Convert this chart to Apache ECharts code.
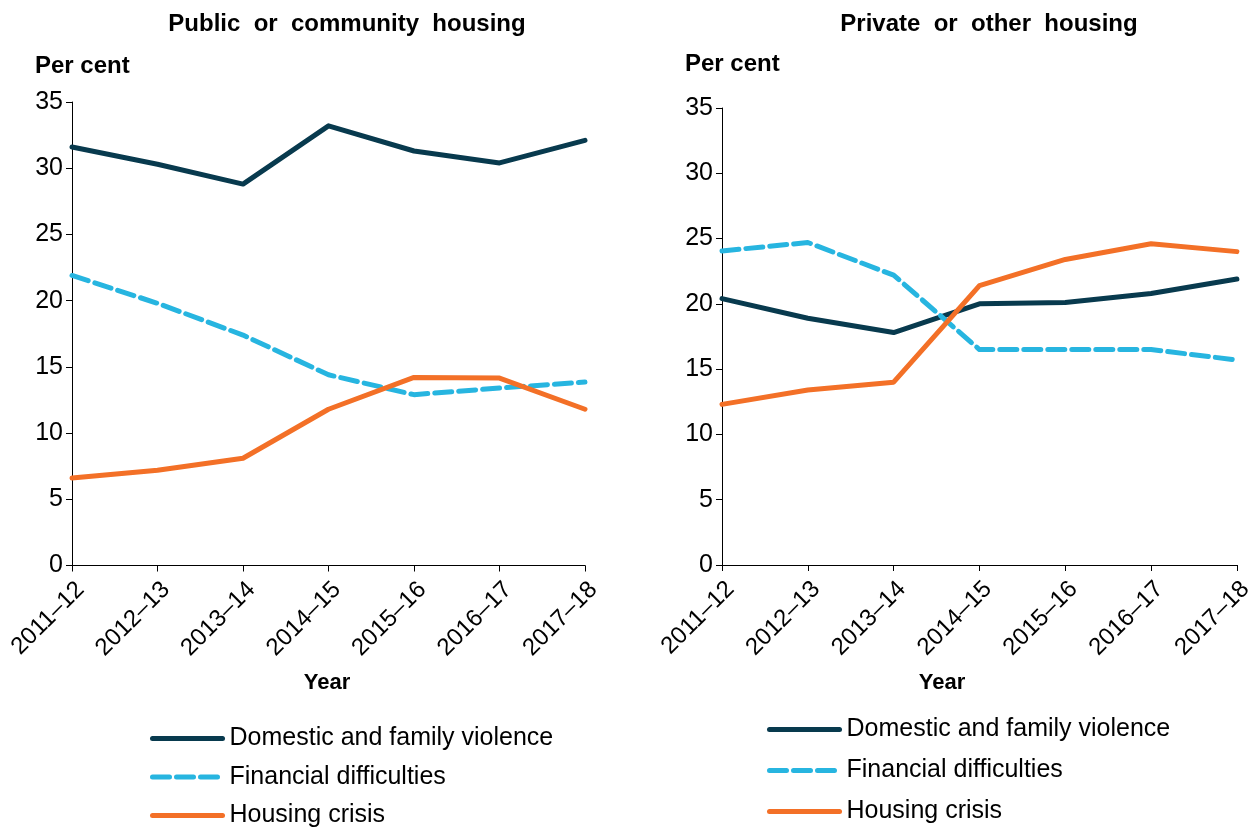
<!DOCTYPE html>
<html>
<head>
<meta charset="utf-8">
<style>
  html, body { margin: 0; padding: 0; background: #fff; }
  #chart { width: 1256px; height: 827px; }
</style>
<script src="https://cdn.jsdelivr.net/npm/echarts@6/dist/echarts.min.js"></script>
</head>
<body>
<div id="chart"></div>
<script>
  // 年份
  const years = ['2011–12', '2012–13', '2013–14', '2014–15', '2015–16', '2016–17', '2017–18'];
  const seriesNames = ['Domestic and family violence', 'Financial difficulties', 'Housing crisis'];

  // Public or community housing
  const publicViolence = [31.6, 30.3, 28.8, 33.2, 31.3, 30.4, 32.1];
  const publicFinancial = [21.9, 19.8, 17.4, 14.4, 12.9, 13.4, 13.85];
  const publicCrisis = [6.6, 7.2, 8.1, 11.8, 14.2, 14.15, 11.8];

  // Private or other housing
  const privateViolence = [20.4, 18.9, 17.8, 20.0, 20.1, 20.8, 21.9];
  const privateFinancial = [24.05, 24.7, 22.2, 16.5, 16.5, 16.5, 15.7];
  const privateCrisis = [12.3, 13.4, 14.0, 21.4, 23.4, 24.6, 24.0];

  const yTicks = [0, 5, 10, 15, 20, 25, 30, 35];

  const font = '"Liberation Sans", Arial, sans-serif';
  const colors = ['#083a4e', '#27b5e0', '#f37027'];

  const chart = echarts.init(document.getElementById('chart'), null, { renderer: 'canvas' });

  function lineSeries(name, data, idx) {
    const c = colors[seriesNames.indexOf(name)];
    return {
      name: name,
      type: 'line',
      xAxisIndex: idx,
      yAxisIndex: idx,
      data: data,
      symbol: 'none',
      animation: false,
      lineStyle: {
        color: c,
        width: 5,
        type: name === 'Financial difficulties' ? [17, 7] : 'solid',
        cap: 'round',
        join: 'round'
      },
      itemStyle: { color: c }
    }
  }

  function xAxis(idx) {
    return {
      type: 'category',
      gridIndex: idx,
      data: years,
      boundaryGap: false,
      axisLine: { lineStyle: { color: '#000', width: 1 } },
      axisTick: { show: true, length: 6, alignWithLabel: true, lineStyle: { color: '#000' } },
      axisLabel: {
        rotate: 45,
        margin: 12,
        color: '#000',
        fontFamily: font,
        fontSize: 24,
        verticalAlign: 'top',
        interval: 0
      },
      splitLine: { show: false }
    }
  }

  function yAxis(idx) {
    return {
      type: 'value',
      gridIndex: idx,
      min: yTicks[0],
      max: yTicks[yTicks.length - 1],
      interval: 5,
      axisLine: { show: true, lineStyle: { color: '#000', width: 1 } },
      axisTick: { show: true, length: 6, lineStyle: { color: '#000' } },
      axisLabel: { color: '#000', fontFamily: font, fontSize: 25, margin: 9 },
      splitLine: { show: false }
    }
  }

  function legend(left, top, gap) {
    return {
      orient: 'vertical',
      left: left,
      top: top,
      height: 200,
      padding: 0,
      itemWidth: 70,
      itemHeight: 14,
      itemGap: gap,
      selectedMode: false,
      itemStyle: { opacity: 0 },
      lineStyle: { width: 5, cap: 'round' },
      textStyle: { color: '#000', fontFamily: font, fontSize: 25, padding: [0, 0, 0, 2] },
      data: seriesNames
    }
  }

  function text(x, y, str, opts) {
    return {
      type: 'text',
      x: x,
      y: y,
      style: Object.assign({
        text: str,
        fill: '#000',
        font: 'bold 24px ' + font,
        align: 'center',
        verticalAlign: 'middle'
      }, opts || {})
    }
  }

  chart.setOption({
    backgroundColor: '#fff',
    animation: false,
    grid: [
      { left: 72, right: 671, top: 102, bottom: 261.5 },
      { left: 722, right: 18, top: 108, bottom: 262 }
    ],
    xAxis: [xAxis(0), xAxis(1)],
    yAxis: [yAxis(0), yAxis(1)],
    legend: [legend(150, 726, 13.5), legend(767, 717, 16)],
    graphic: [
      text(347, 24, 'Public  or  community  housing'),
      text(989, 24, 'Private  or  other  housing'),
      text(35, 66, 'Per cent', { align: 'left' }),
      text(685, 64, 'Per cent', { align: 'left' }),
      text(327, 683, 'Year', { font: 'bold 22px ' + font }),
      text(942, 683, 'Year', { font: 'bold 22px ' + font })
    ],
    series: [
      lineSeries(seriesNames[0], publicViolence, 0),
      lineSeries(seriesNames[1], publicFinancial, 0),
      lineSeries(seriesNames[2], publicCrisis, 0),
      lineSeries(seriesNames[0], privateViolence, 1),
      lineSeries(seriesNames[1], privateFinancial, 1),
      lineSeries(seriesNames[2], privateCrisis, 1)
    ]
  });
</script>
</body>
</html>
